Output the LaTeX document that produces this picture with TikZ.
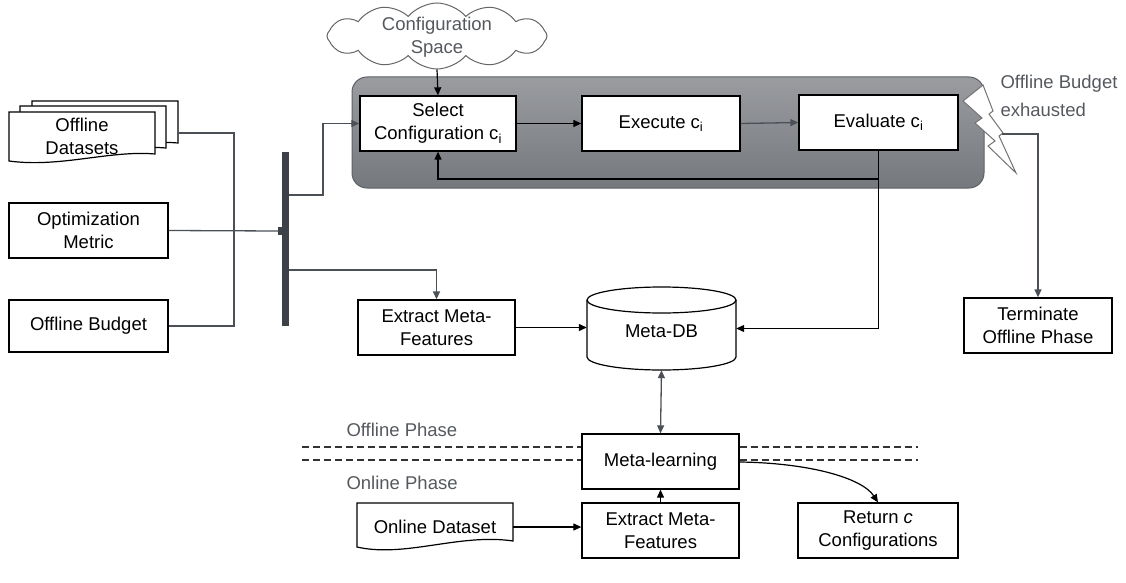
\documentclass[tikz,border=0pt]{standalone}
\usepackage{fontspec}
\setmainfont{Liberation Sans}
\usetikzlibrary{arrows.meta,shapes.symbols,calc}
\definecolor{linegray}{HTML}{4B5057}
\definecolor{bargray}{HTML}{3D4148}
\definecolor{txtgray}{HTML}{55595E}
\definecolor{regtop}{HTML}{9A9CA0}
\definecolor{regbot}{HTML}{75787D}
\definecolor{regedge}{HTML}{5E6166}
\tikzset{
  lbl/.style={font=\fontsize{18.5}{23}\selectfont, align=center},
  box/.style={lbl, draw=black, line width=1.3pt, fill=white, inner sep=0pt},
  blk/.style={draw=black, line width=1.2pt},
  gry/.style={draw=linegray, line width=1.3pt},
  tip/.style={-{Triangle[length=8pt,width=7pt]}},
  dtip/.style={{Triangle[length=8pt,width=7pt]}-{Triangle[length=8pt,width=7pt]}},
  phase/.style={draw=black!80, line width=1.1pt, dash pattern=on 7pt off 4pt}
}
\begin{document}
\begin{tikzpicture}[x=1pt,y=-1pt]
\useasboundingbox (0,0) rectangle (1126,583);

% grey loop region
\shade[rounded corners=15pt, top color=regtop, bottom color=regbot, draw=regedge, line width=1pt]
  (352,77) rectangle (984,188);

% cloud
\node[cloud, cloud puffs=12, cloud puff arc=100, aspect=3.3, draw=black!60, line width=1pt, fill=white,
      minimum width=220pt, minimum height=66pt, inner sep=0pt] (cloud) at (437,36) {};
\node[lbl, text=txtgray] (cloudtxt) at (437,37) {Configuration\\Space};

% offline datasets (stacked documents)
\foreach \dx/\dy in {23/-11, 11/-6} {
  \draw[line width=1.2pt, fill=white] ($(9,112)+(\dx,\dy)$) -- ($(155,112)+(\dx,\dy)$) -- ($(155,154)+(\dx,\dy)$)
    .. controls ($(110,150)+(\dx,\dy)$) and ($(60,168)+(\dx,\dy)$) .. ($(9,161)+(\dx,\dy)$) -- cycle;
}
\draw[line width=1.2pt, fill=white] (9,112) -- (155,112) -- (155,154)
    .. controls (110,150) and (60,168) .. (9,161) -- cycle;
\node[lbl] (ds) at (82,136) {Offline\\Datasets};
\coordinate (dsout) at (178,133);

% input boxes
\node[box, minimum width=159pt, minimum height=55pt] (metric) at (88.5,230.5) {Optimization\\Metric};
\node[box, minimum width=159pt, minimum height=52pt] (budget) at (88.5,326) {Offline Budget};

% bar
\fill[bargray] (282,152) rectangle (289,326);
\fill[bargray] (278,227) rectangle (283,235);
\coordinate (barin) at (278,231);
\coordinate (barup) at (289,195);
\coordinate (barlo) at (289,270);

% loop boxes
\node[box, minimum width=156pt, minimum height=55pt] (select) at (438,123.5) {Select\\Configuration c\textsubscript{i}};
\node[box, minimum width=158pt, minimum height=55pt] (exec) at (661,123.5) {Execute c\textsubscript{i}};
\node[box, minimum width=159pt, minimum height=55pt] (eval) at (878.5,122.5) {Evaluate c\textsubscript{i}};

% lightning
\draw[draw=black!55, fill=white, line width=1pt, line join=miter]
  (983,85) -- (963,101) -- (982,118) -- (975,123) -- (995,141) -- (988,146) -- (1016,173)
  -- (999,136) -- (1003,133) -- (989,114) -- (993,111) -- cycle;
\coordinate (bolt) at (1002,134);
\node[lbl, text=txtgray, align=left, anchor=north west, font=\fontsize{18.5}{28}\selectfont] (budtxt) at (997,72) {Offline Budget\\exhausted};

% middle row
\node[box, minimum width=157pt, minimum height=55pt] (ex1) at (436.5,327.5) {Extract Meta-\\Features};
\node[box, minimum width=148pt, minimum height=55pt] (term) at (1038,325.5) {Terminate\\Offline Phase};

% Meta-DB cylinder
\draw[line width=1.2pt, fill=white] (587,300) -- (587,357) arc[start angle=180, end angle=360, x radius=74.5pt, y radius=13pt]
  -- (736,300);
\draw[line width=1.2pt, fill=white] (661.5,300) ellipse[x radius=74.5pt, y radius=13pt];
\node[lbl, minimum width=149pt, minimum height=83pt, inner sep=0pt] (db) at (661.5,328.5) {};
\node[lbl] (dbtxt) at (661.5,331) {Meta-DB};

% phases
\node[lbl, text=txtgray, anchor=west] (offph) at (343,430) {Offline Phase};
\node[lbl, text=txtgray, anchor=west] (onph) at (343,483) {Online Phase};
\node[box, minimum width=157pt, minimum height=55pt] (ml) at (660.5,461.5) {Meta-learning};
\coordinate (dl1) at (302,447);
\coordinate (dr1) at (918,447);
\coordinate (dl2) at (302,460);
\coordinate (dr2) at (918,460);
\draw[phase] (dl1) -- (dl1 -| ml.west);
\draw[phase] (dl1 -| ml.east) -- (dr1);
\draw[phase] (dl2) -- (dl2 -| ml.west);
\draw[phase] (dl2 -| ml.east) -- (dr2);

% bottom row
\draw[line width=1.2pt, fill=white] (357,503) -- (513,503) -- (513,541)
    .. controls (460,533) and (405,558) .. (357,547) -- cycle;
\node[lbl] (onds) at (435,527) {Online Dataset};
\coordinate (ondsout) at (513,527);
\node[box, minimum width=157pt, minimum height=55pt] (ex2) at (660.5,530.5) {Extract Meta-\\Features};
\node[box, minimum width=160pt, minimum height=55pt] (ret) at (878,530.5) {Return \textit{c}\\Configurations};

% connectors
\draw[gry] (dsout) -- (234,133) |- (budget.east);
\draw[gry] (metric.east) -- (barin);
\draw[gry, tip] (barup) -- (323,195) |- (select.west);
\draw[gry, tip] (barlo) -| (ex1.north);
\draw[blk, tip] (cloud.south) -- (select.north);
\draw[blk, tip] (select.east) -- (exec.west);
\draw[gry, tip] (exec.east) -- (eval.west);
\draw[blk] (eval.south) -- (878.5,179);
\draw[blk, tip] (878.5,179) -| (select.south);
\draw[blk, tip] (878.5,179) |- (db.east);
\draw[blk, tip] (ex1.east) -- (ex1.east -| db.west);
\draw[gry, tip] (bolt) -| (term.north);
\draw[gry, dtip] (db.south) -- (ml.north);
\draw[blk, tip] (ex2.north) -- (ml.south);
\draw[blk, tip] (ondsout) -- (ondsout -| ex2.west);
\draw[blk, tip] (ml.east |- 0,462) .. controls (810,463) and (862,478) .. (ret.north);
\end{tikzpicture}
\end{document}
